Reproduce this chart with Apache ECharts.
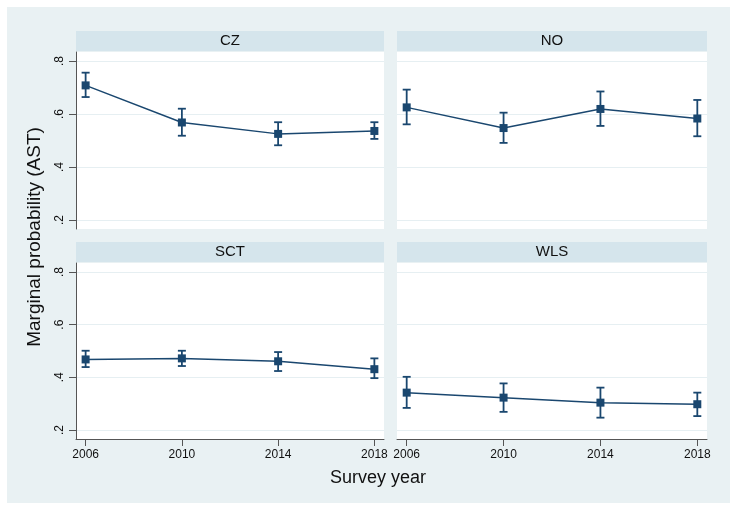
<!DOCTYPE html>
<html>
<head>
<meta charset="utf-8">
<script src="https://cdn.jsdelivr.net/npm/echarts@6/dist/echarts.min.js"></script>
<style>
html,body{margin:0;padding:0;background:#fff;}
#chart{width:738px;height:510px;}
</style>
</head>
<body>
<div id="chart"></div>
<script>
// ---- data ----
const years = [2006, 2010, 2014, 2018];
const panelNames = ['CZ', 'NO', 'SCT', 'WLS'];
const yTickValues = [0.2, 0.4, 0.6, 0.8];
const yTickLabels = ['.2', '.4', '.6', '.8'];
const xTitle = 'Survey year';
const yTitle = 'Marginal probability (AST)';

const czEst = [0.708, 0.568, 0.525, 0.536];
const czLo  = [0.664, 0.518, 0.482, 0.506];
const czHi  = [0.756, 0.620, 0.569, 0.569];

const noEst = [0.625, 0.547, 0.619, 0.583];
const noLo  = [0.561, 0.491, 0.555, 0.516];
const noHi  = [0.692, 0.605, 0.685, 0.653];

const sctEst = [0.468, 0.472, 0.461, 0.431];
const sctLo  = [0.439, 0.443, 0.424, 0.397];
const sctHi  = [0.501, 0.501, 0.496, 0.472];

const wlsEst = [0.342, 0.323, 0.304, 0.298];
const wlsLo  = [0.284, 0.269, 0.247, 0.253];
const wlsHi  = [0.402, 0.377, 0.361, 0.342];

const estimates = [czEst, noEst, sctEst, wlsEst];
const lows = [czLo, noLo, sctLo, wlsLo];
const highs = [czHi, noHi, sctHi, wlsHi];

// ---- layout ----
const navy = '#1a476f';
const grids = [
  {left: 76, top: 52, width: 308, height: 177},
  {left: 397, top: 52, width: 310, height: 177},
  {left: 76, top: 263, width: 308, height: 176},
  {left: 397, top: 263, width: 310, height: 176}
];
const font = 'Liberation Sans, Arial, sans-serif';

const chart = echarts.init(document.getElementById('chart'));

const xAxes = [], yAxes = [], series = [], gridOpts = [], graphics = [];

graphics.push({type: 'rect', shape: {x: 7, y: 7, width: 723, height: 496}, style: {fill: '#e9f1f3'}, z: -10});

grids.forEach((g, i) => {
  gridOpts.push(Object.assign({show: true, backgroundColor: '#ffffff', borderWidth: 0}, g));
  const isBottom = i >= 2, isLeft = i % 2 === 0;
  graphics.push({
    type: 'rect', shape: {x: g.left, y: g.top - 21, width: g.width, height: 20}, style: {fill: '#d5e5ec'}, z: -5
  });
  graphics.push({
    type: 'text', x: g.left + g.width / 2, y: g.top - 11,
    style: {text: panelNames[i], fill: '#111', font: '15px ' + font, textAlign: 'center', textVerticalAlign: 'middle'}
  });
  xAxes.push({
    gridIndex: i, type: 'value', min: 2005.6, max: 2018.4,
    axisLine: {show: isBottom, onZero: false, lineStyle: {color: '#555', width: 1}},
    axisTick: {show: isBottom, length: 7, customValues: years, lineStyle: {color: '#555'}},
    axisLabel: {show: isBottom, customValues: years, margin: 10, color: '#111', fontSize: 12, fontFamily: font,
      formatter: v => String(v)},
    splitLine: {show: false}
  });
  yAxes.push({
    gridIndex: i, type: 'value', min: 0.166, max: 0.834,
    axisLine: {show: isLeft, lineStyle: {color: '#555', width: 1}},
    axisTick: {show: isLeft, length: 7, customValues: yTickValues, lineStyle: {color: '#555'}},
    axisLabel: {show: isLeft, customValues: yTickValues, rotate: 90, margin: 10, color: '#111', fontSize: 12, fontFamily: font,
      formatter: v => yTickLabels[yTickValues.findIndex(t => Math.abs(t - v) < 1e-6)] || ''},
    splitLine: {show: true, lineStyle: {color: '#e6eff2', width: 1}}
  });
  series.push({
    type: 'custom', xAxisIndex: i, yAxisIndex: i,
    data: years.map((y, k) => [y, lows[i][k], highs[i][k]]),
    renderItem: (params, api) => {
      const x = api.value(0);
      const lo = api.coord([x, api.value(1)]);
      const hi = api.coord([x, api.value(2)]);
      const cap = 4;
      const st = {stroke: navy, lineWidth: 1.8};
      return {type: 'group', children: [
        {type: 'line', shape: {x1: lo[0], y1: lo[1], x2: hi[0], y2: hi[1]}, style: st},
        {type: 'line', shape: {x1: lo[0] - cap, y1: lo[1], x2: lo[0] + cap, y2: lo[1]}, style: st},
        {type: 'line', shape: {x1: hi[0] - cap, y1: hi[1], x2: hi[0] + cap, y2: hi[1]}, style: st}
      ]};
    },
    z: 2, silent: true
  });
  series.push({
    type: 'line', xAxisIndex: i, yAxisIndex: i,
    data: years.map((y, k) => [y, estimates[i][k]]),
    symbol: 'rect', symbolSize: 8,
    lineStyle: {color: navy, width: 1.5},
    itemStyle: {color: navy},
    z: 3, silent: true, animation: false
  });
});

graphics.push({
  type: 'text', x: 378, y: 478,
  style: {text: xTitle, fill: '#111', font: '18px ' + font, textAlign: 'center', textVerticalAlign: 'middle'}
});
graphics.push({
  type: 'text', x: 35, y: 237, rotation: Math.PI / 2,
  style: {text: yTitle, fill: '#111', font: '19px ' + font, textAlign: 'center', textVerticalAlign: 'middle'}
});

chart.setOption({
  animation: false,
  backgroundColor: '#ffffff',
  grid: gridOpts,
  xAxis: xAxes,
  yAxis: yAxes,
  series: series,
  graphic: graphics
});
</script>
</body>
</html>
